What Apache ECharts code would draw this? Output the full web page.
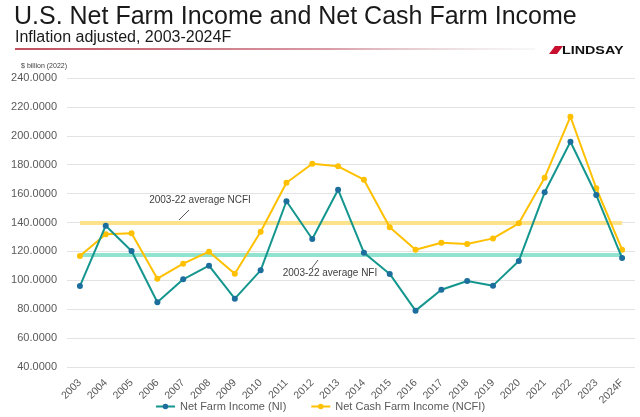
<!DOCTYPE html>
<html>
<head>
<meta charset="utf-8">
<script src="https://cdn.jsdelivr.net/npm/echarts@6/dist/echarts.min.js"></script>
<style>
  html, body { margin: 0; padding: 0; background: #fff; }
  #chart { width: 640px; height: 417px; }
</style>
</head>
<body>
<div id="chart"></div>
<script>
// data ($ billion, 2022 dollars)
const years = ['2003', '2004', '2005', '2006', '2007', '2008', '2009', '2010', '2011', '2012', '2013',
  '2014', '2015', '2016', '2017', '2018', '2019', '2020', '2021', '2022', '2023', '2024F'];
const netFarmIncome = [96.0, 137.8, 120.3, 84.8, 100.7, 110.1, 87.3, 106.9, 154.7, 128.6, 162.7,
  119.1, 104.4, 79.0, 93.5, 99.5, 96.3, 113.4, 160.9, 195.9, 159.0, 115.4];
const netCashFarmIncome = [116.8, 131.8, 132.5, 101.1, 111.5, 119.8, 104.6, 133.6, 167.5, 180.7, 178.9,
  169.6, 136.7, 121.2, 126.0, 125.1, 129.0, 139.4, 171.0, 213.2, 163.7, 121.2];
const avgNfi = 117.7;
const avgNcfi = 140.1;

const chart = echarts.init(document.getElementById('chart'));

const font = '"Liberation Sans", Arial, sans-serif';

chart.setOption({
  animation: false,
  textStyle: { fontFamily: font },
  grid: { left: 67, right: 5, top: 78, bottom: 50 },
  legend: {
    bottom: 0,
    left: 'center',
    itemWidth: 19,
    itemHeight: 7,
    itemGap: 24,
    textStyle: { fontSize: 11, color: '#595959' },
    data: ['Net Farm Income (NI)', 'Net Cash Farm Income (NCFI)']
  },
  xAxis: {
    type: 'category',
    boundaryGap: true,
    data: years,
    axisLine: { show: false },
    axisTick: { show: false },
    axisLabel: { rotate: 45, fontSize: 10.5, color: '#595959', margin: 14, interval: 0 }
  },
  yAxis: {
    type: 'value',
    min: 40,
    max: 240,
    interval: 20,
    name: '$ billion (2022)',
    nameTextStyle: { fontSize: 7, color: '#404040', align: 'right', padding: [0, 0, 0, 0] },
    nameGap: 8,
    axisLabel: {
      fontSize: 11, color: '#595959', margin: 10,
      formatter: v => v.toFixed(4)
    },
    splitLine: { lineStyle: { color: '#e3e3e3', width: 1 } }
  },
  series: [
    {
      name: 'Net Farm Income (NI)',
      type: 'line',
      data: netFarmIncome,
      symbol: 'circle',
      symbolSize: 6,
      lineStyle: { color: '#14968f', width: 2 },
      itemStyle: { color: '#1c6e9c' },
      color: '#14968f',
      z: 3,
      markLine: {
        silent: true,
        symbol: 'none',
        label: { show: false },
        lineStyle: { color: '#8fe3cf', width: 4, type: 'solid' },
        data: [[{ coord: [years[0], avgNfi] }, { coord: [years[years.length - 1], avgNfi] }]],
        z: 1
      }
    },
    {
      name: 'Net Cash Farm Income (NCFI)',
      type: 'line',
      data: netCashFarmIncome,
      symbol: 'circle',
      symbolSize: 6,
      lineStyle: { color: '#ffc000', width: 2 },
      itemStyle: { color: '#ffc000' },
      color: '#ffc000',
      z: 2,
      markLine: {
        silent: true,
        symbol: 'none',
        label: { show: false },
        lineStyle: { color: '#fde28c', width: 4, type: 'solid' },
        data: [[{ coord: [years[0], avgNcfi] }, { coord: [years[years.length - 1], avgNcfi] }]],
        z: 1
      }
    }
  ],
  graphic: [
    {
      type: 'text', left: 14, top: 5,
      style: { text: 'U.S. Net Farm Income and Net Cash Farm Income', font: '25px ' + font, fill: '#1a1a1a' }
    },
    {
      type: 'text', left: 15, top: 30,
      style: { text: 'Inflation adjusted, 2003-2024F', font: '16px ' + font, fill: '#1a1a1a' }
    },
    {
      type: 'rect', shape: { x: 15, y: 48, width: 520, height: 2 },
      style: {
        fill: new echarts.graphic.LinearGradient(0, 0, 1, 0, [
          { offset: 0, color: '#c0505f' },
          { offset: 0.6, color: '#d99aa5' },
          { offset: 1, color: 'rgba(230,230,230,0.3)' }
        ])
      }
    },
    {
      type: 'polygon', shape: { points: [[549, 54], [555, 46], [563, 46], [557, 54]] },
      style: { fill: '#c8102e' }
    },
    {
      type: 'text', x: 562, y: 45, scaleX: 1.3,
      style: { text: 'LINDSAY', font: '900 11px ' + font, fill: '#111' }
    },
    {
      type: 'text', x: 200, y: 200,
      style: { text: '2003-22 average NCFI', font: '10px ' + font, fill: '#404040', align: 'center', verticalAlign: 'middle' }
    },
    {
      type: 'line', shape: { x1: 179, y1: 220, x2: 189, y2: 210 },
      style: { stroke: '#595959', lineWidth: 1 }
    },
    {
      type: 'text', x: 330, y: 273,
      style: { text: '2003-22 average NFI', font: '10px ' + font, fill: '#404040', align: 'center', verticalAlign: 'middle' }
    },
    {
      type: 'line', shape: { x1: 312, y1: 268, x2: 318, y2: 260 },
      style: { stroke: '#595959', lineWidth: 1 }
    }
  ]
});
</script>
</body>
</html>
